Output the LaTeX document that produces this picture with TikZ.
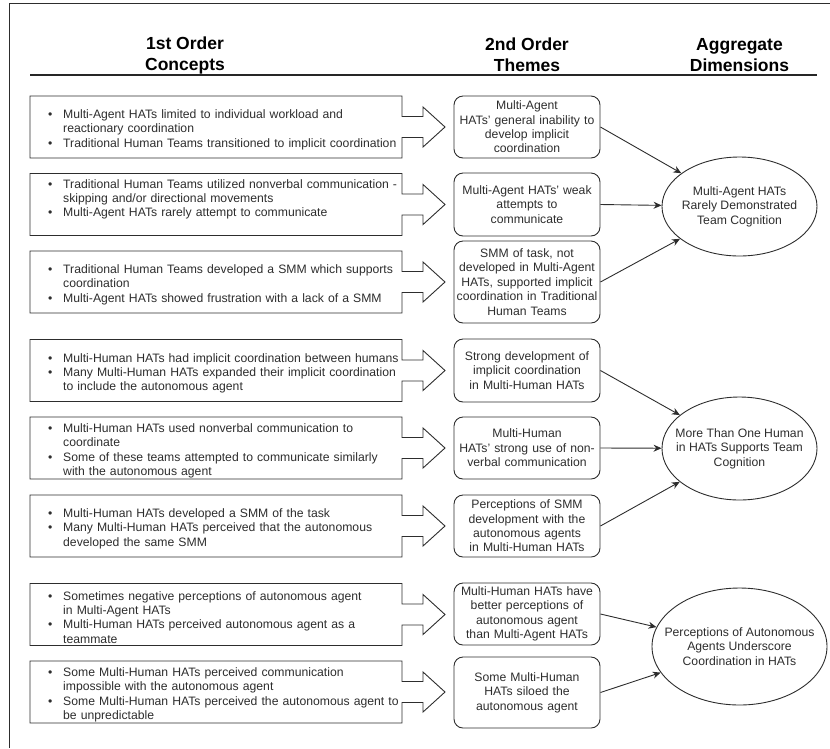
\documentclass[tikz,border=0pt]{standalone}
\usepackage{fontspec}
\setmainfont{Liberation Sans}
\usepackage{tikz}
\usetikzlibrary{calc}
\usetikzlibrary{shapes.geometric}
\usetikzlibrary{arrows.meta}
\definecolor{inkgray}{RGB}{45,45,45}
\newcommand{\itm}{\par\hangindent=15pt\hangafter=1\noindent\makebox[15pt][l]{\textbullet}}
\newcommand{\concept}[4][0]{\node[concept] (#2) at (48,#3+#1) {#4\par}; \draw[outline] (30,#3-31) -- (402,#3-31) -- (402,#3-10.5) -- (423,#3-10.5) -- (423,#3-20) -- (445,#3) -- (423,#3+20) -- (423,#3+10.5) -- (402,#3+10.5) -- (402,#3+31) -- (30,#3+31) -- cycle;}

\begin{document}
\begin{tikzpicture}[x=1pt,y=-1pt,
    every node/.style={text=inkgray, font=\fontsize{12.2}{14.4}\selectfont},
    outline/.style={draw=inkgray, line width=0.9pt},
    concept/.style={anchor=west, text width=354pt, inner sep=0pt, align=left},
    theme/.style={draw=inkgray, line width=0.9pt, rounded corners=9pt, text width=142pt, inner xsep=2pt, inner ysep=0pt, align=center},
    dim/.style={ellipse, draw=inkgray, line width=0.9pt, inner sep=0pt},
    dimtext/.style={align=center, inner sep=0pt},
    head/.style={align=center, inner sep=0pt, font=\bfseries\fontsize{17.5}{21}\selectfont, text=black},
    link/.style={draw=inkgray, line width=0.9pt, -{Stealth[length=8pt,width=7pt]}}]
    \useasboundingbox (0,0) rectangle (830,748);
    \draw[outline] (9,748) -- (9,3) -- (830,3);
    % headings
    \node[head] (h1) at (185,55) {1st Order\\Concepts};
    \node[head] (h2) at (527,55) {2nd Order\\Themes};
    \node[head] (h3) at (739.5,55) {Aggregate\\Dimensions};
    \draw[draw=black!85, line width=1.2pt] (30,75) -- (817,75);
    % 1st order concepts
    \concept{c1}{127}{\itm Multi-Agent HATs limited to individual workload and\newline reactionary coordination \itm Traditional Human Teams transitioned to implicit coordination}
    \concept[-8]{c2}{204.5}{\itm Traditional Human Teams utilized nonverbal communication -\newline skipping and/or directional movements \itm Multi-Agent HATs rarely attempt to communicate}
    \concept{c3}{282}{\itm Traditional Human Teams developed a SMM which supports\newline coordination \itm Multi-Agent HATs showed frustration with a lack of a SMM}
    \concept{c4}{370.5}{\itm Multi-Human HATs had implicit coordination between humans \itm Many Multi-Human HATs expanded their implicit coordination\newline to include the autonomous agent}
    \concept{c5}{448}{\itm Multi-Human HATs used nonverbal communication to\newline coordinate \itm Some of these teams attempted to communicate similarly\newline with the autonomous agent}
    \concept{c6}{526}{\itm Multi-Human HATs developed a SMM of the task \itm Many Multi-Human HATs perceived that the autonomous\newline developed the same SMM}
    \concept{c7}{614.5}{\itm Sometimes negative perceptions of autonomous agent\newline in Multi-Agent HATs \itm Multi-Human HATs perceived autonomous agent as a\newline teammate}
    \concept{c8}{692}{\itm Some Multi-Human HATs perceived communication\newline impossible with the autonomous agent \itm Some Multi-Human HATs perceived the autonomous agent to\newline be unpredictable}
    % 2nd order themes
    \node[theme, minimum height=62pt] (t1) at (527,127) {Multi-Agent\\HATs' general inability to\\develop implicit\\coordination};
    \node[theme, minimum height=63pt] (t2) at (527,204.5) {Multi-Agent HATs' weak\\attempts to\\communicate};
    \node[theme, minimum height=82pt] (t3) at (527,282) {SMM of task, not\\developed in Multi-Agent\\HATs, supported implicit\\coordination in Traditional\\Human Teams};
    \node[theme, minimum height=63pt] (t4) at (527,370.5) {Strong development of\\implicit coordination\\in Multi-Human HATs};
    \node[theme, minimum height=62pt] (t5) at (527,448) {Multi-Human\\HATs' strong use of non-\\verbal communication};
    \node[theme, minimum height=62pt] (t6) at (527,526) {Perceptions of SMM\\development with the\\autonomous agents\\in Multi-Human HATs};
    \node[theme, minimum height=62pt] (t7) at (527,614) {Multi-Human HATs have\\better perceptions of\\autonomous agent\\than Multi-Agent HATs};
    \node[theme, minimum height=71pt] (t8) at (527,692.5) {Some Multi-Human\\HATs siloed the\\autonomous agent};
    % aggregate dimensions
    \node[dim, minimum width=155pt, minimum height=99pt] (e1) at (739.5,206.5) {};
    \node[dimtext] (e1t) at (e1) {Multi-Agent HATs\\Rarely Demonstrated\\Team Cognition};
    \node[dim, minimum width=155pt, minimum height=103pt] (e2) at (739.5,448.5) {};
    \node[dimtext] (e2t) at (e2) {More Than One Human\\in HATs Supports Team\\Cognition};
    \node[dim, minimum width=175pt, minimum height=117pt] (e3) at (739.5,646.5) {};
    \node[dimtext] (e3t) at (e3) {Perceptions of Autonomous\\Agents Underscore\\Coordination in HATs};
    % links
    \foreach \t in {t1,t2,t3} \draw[link] (\t.east) -- (e1);
    \foreach \t in {t4,t5,t6} \draw[link] (\t.east) -- (e2);
    \foreach \t in {t7,t8} \draw[link] (\t.east) -- (e3);
\end{tikzpicture}
\end{document}
